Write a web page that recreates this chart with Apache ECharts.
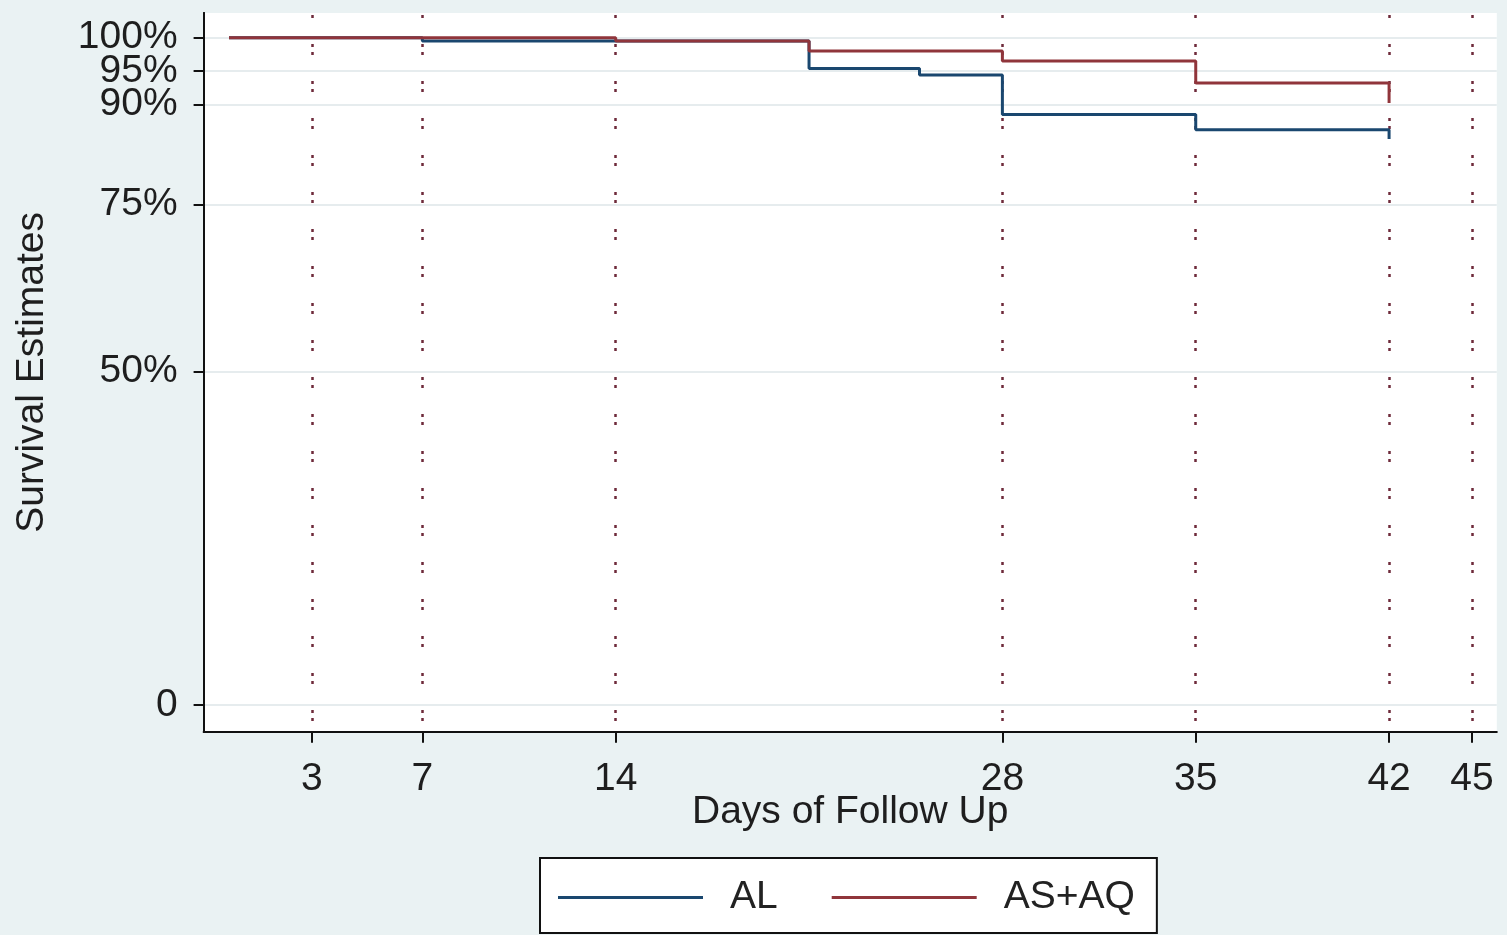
<!DOCTYPE html>
<html>
<head>
<meta charset="utf-8">
<script src="https://cdn.jsdelivr.net/npm/echarts@6/dist/echarts.min.js"></script>
<style>
html,body{margin:0;padding:0;background:#eaf2f3;}
#chart{width:1507px;height:935px;}
</style>
</head>
<body>
<div id="chart"></div>
<script>
// Kaplan-Meier survival estimates: [day, survival %] (value holds until next day)
const seriesNames = ['AL', 'AS+AQ'];
const alDays  = [0, 7, 21, 25, 28, 35, 42];
const alSurv  = [100, 99.5, 95.4, 94.4, 88.5, 86.2, 84.8];
const asaqDays = [0, 14, 21, 28, 35, 42];
const asaqSurv = [100, 99.5, 98.0, 96.5, 93.2, 90.2];
const xTicks = [3, 7, 14, 28, 35, 42, 45];
// y tick labels; 95% sits between 90% and 100% and is placed on a twin axis
// so that ECharts' overlap handling does not drop it
const yTicksMain = [0, 50, 75, 90, 100];
const yTicksMid = [95];
const xAxisTitle = 'Days of Follow Up';
const yAxisTitle = 'Survival Estimates';

const FONT = "'Liberation Sans', Arial, Helvetica, sans-serif";
const pair = (xs, ys) => xs.map((x, i) => [x, ys[i]]);
const pct = v => (v === 0 ? '0' : v + '%');

const yBase = {
  type: 'value', min: -4, max: 103.7, position: 'left', offset: 0,
  axisLine: {show: true, onZero: false, lineStyle: {color: '#111', width: 2}},
  splitLine: {show: true, lineStyle: {color: '#e6ecee', width: 2}}
};
const yLabelStyle = {fontFamily: FONT, fontSize: 39, color: '#1e1e1e', margin: 26,
                     showMinLabel: true, showMaxLabel: true, formatter: pct};

const chart = echarts.init(document.getElementById('chart'), null, {renderer: 'canvas'});
chart.setOption({
  backgroundColor: '#eaf2f3',
  animation: false,
  grid: {
    left: 203.6, top: 13, width: 1293.2, height: 718.7,
    show: true, backgroundColor: '#ffffff', borderWidth: 0
  },
  legend: {
    left: 540, top: 858,
    orient: 'horizontal',
    backgroundColor: '#ffffff',
    borderColor: '#111111', borderWidth: 2, borderRadius: 0,
    padding: [20, 22, 16, 18],
    icon: 'rect',
    itemWidth: 145, itemHeight: 3, itemGap: 54,
    textStyle: {fontFamily: FONT, fontSize: 39, color: '#222', padding: [0, 0, 0, 22]},
    data: seriesNames
  },
  xAxis: {
    type: 'value', min: -0.92, max: 45.9,
    name: xAxisTitle, nameLocation: 'middle', nameGap: 61, nameMoveOverlap: false,
    nameTextStyle: {fontFamily: FONT, fontSize: 39, color: '#1e1e1e'},
    axisLine: {show: true, onZero: false, lineStyle: {color: '#111', width: 2}},
    axisTick: {show: true, customValues: xTicks, length: 11, lineStyle: {color: '#111', width: 2}},
    axisLabel: {customValues: xTicks, fontFamily: FONT, fontSize: 39, color: '#1e1e1e', margin: 28,
                showMinLabel: true, showMaxLabel: true},
    splitLine: {show: true, lineStyle: {color: '#6e2a3a', width: 2.5, type: [3, 5, 3, 26], dashOffset: 6}}
  },
  yAxis: [
    Object.assign({}, yBase, {
      name: yAxisTitle, nameLocation: 'middle', nameGap: 152, nameRotate: 90, nameMoveOverlap: false,
      nameTextStyle: {fontFamily: FONT, fontSize: 39, color: '#1e1e1e'},
      axisTick: {show: true, customValues: yTicksMain, length: 10, lineStyle: {color: '#111', width: 2}},
      axisLabel: Object.assign({customValues: yTicksMain}, yLabelStyle)
    }),
    Object.assign({}, yBase, {
      axisTick: {show: true, customValues: yTicksMid, length: 10, lineStyle: {color: '#111', width: 2}},
      axisLabel: Object.assign({customValues: yTicksMid}, yLabelStyle)
    })
  ],
  series: [
    {
      name: seriesNames[0], type: 'line', step: 'end', yAxisIndex: 0,
      data: pair(alDays, alSurv),
      symbol: 'none', showSymbol: false,
      lineStyle: {color: '#1a476f', width: 3},
      itemStyle: {color: '#1a476f'}
    },
    {
      name: seriesNames[1], type: 'line', step: 'end', yAxisIndex: 0,
      data: pair(asaqDays, asaqSurv),
      symbol: 'none', showSymbol: false,
      lineStyle: {color: '#90353b', width: 3},
      itemStyle: {color: '#90353b'}
    }
  ]
});
</script>
</body>
</html>
